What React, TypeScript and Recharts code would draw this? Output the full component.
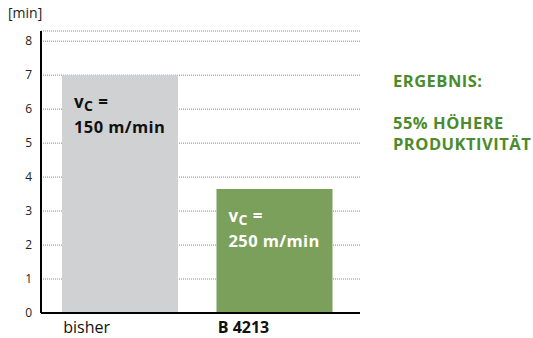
import { Bar, BarChart, CartesianGrid, Cell, LabelList, XAxis, YAxis } from "recharts";

const categories = ["bisher", "B 4213"];
const minutes = [7, 3.65];
const speeds = ["150 m/min", "250 m/min"];
const yTicks = [0, 1, 2, 3, 4, 5, 6, 7, 8];
const barColors = ["#d0d1d3", "#7ba05b"];
const labelColors = ["#111111", "#ffffff"];

const data = categories.map((name, i) => ({ name, value: minutes[i], speed: speeds[i] }));

const FONT = "'Open Sans', 'DejaVu Sans', sans-serif";
const BAR = 116;

function XTick(props: any) {
  const { x, y, payload, index } = props;
  return (
    <text
      x={x - BAR / 2 + 1}
      y={y + 12}
      textAnchor="start"
      fontFamily={FONT}
      fontSize={16}
      fontWeight={index === 1 ? 700 : 400}
      fill="#111"
    >
      {payload.value}
    </text>
  );
}

function BarLabel(props: any) {
  const { x, y, index } = props;
  const fill = labelColors[index];
  return (
    <g fontFamily={FONT} fontWeight={700} fill={fill} letterSpacing={0.4}>
      <text x={x + 12} y={y + 33} fontSize={17}>
        v<tspan fontSize={14} dy={3}>C</tspan>
        <tspan dy={-3} fontSize={17}> =</tspan>
      </text>
      <text x={x + 12} y={y + 58} fontSize={16.5}>
        {speeds[index]}
      </text>
    </g>
  );
}

export default function App() {
  return (
    <div style={{ position: "absolute", left: 0, top: 0, width: 533, height: 338, background: "#fff" }}>
      <div style={{ position: "absolute", left: 8, top: 3, fontFamily: FONT, fontSize: 14, color: "#222" }}>
        [min]
      </div>
      <BarChart
        width={533}
        height={338}
        data={data}
        margin={{ top: 31, right: 173, bottom: 0, left: 0 }}
        barSize={BAR}
      >
        <CartesianGrid vertical={false} stroke="#6f9f4a" strokeDasharray="1 1" />
        <XAxis
          dataKey="name"
          axisLine={{ stroke: "#000", strokeWidth: 2 }}
          tickLine={false}
          tick={<XTick />}
          padding={{ left: 2, right: 8 }}
          height={25}
          interval={0}
        />
        <YAxis
          width={41}
          domain={[0, 8.3]}
          ticks={yTicks}
          axisLine={{ stroke: "#000", strokeWidth: 2 }}
          tickLine={false}
          tickSize={0}
          tickMargin={9}
          tick={{ fontFamily: FONT, fontSize: 12, fill: "#222" }}
        />
        <Bar dataKey="value" isAnimationActive={false}>
          {data.map((_, i) => (
            <Cell key={i} fill={barColors[i]} />
          ))}
          <LabelList dataKey="speed" content={<BarLabel />} />
        </Bar>
      </BarChart>
      <div
        style={{
          position: "absolute",
          left: 393,
          top: 70,
          fontFamily: FONT,
          fontSize: 16.5,
          fontWeight: 700,
          letterSpacing: 0.5,
          color: "#4b8b2b",
          lineHeight: "21px",
        }}
      >
        ERGEBNIS:
        <br />
        <br />
        55% HÖHERE
        <br />
        PRODUKTIVITÄT
      </div>
    </div>
  );
}
